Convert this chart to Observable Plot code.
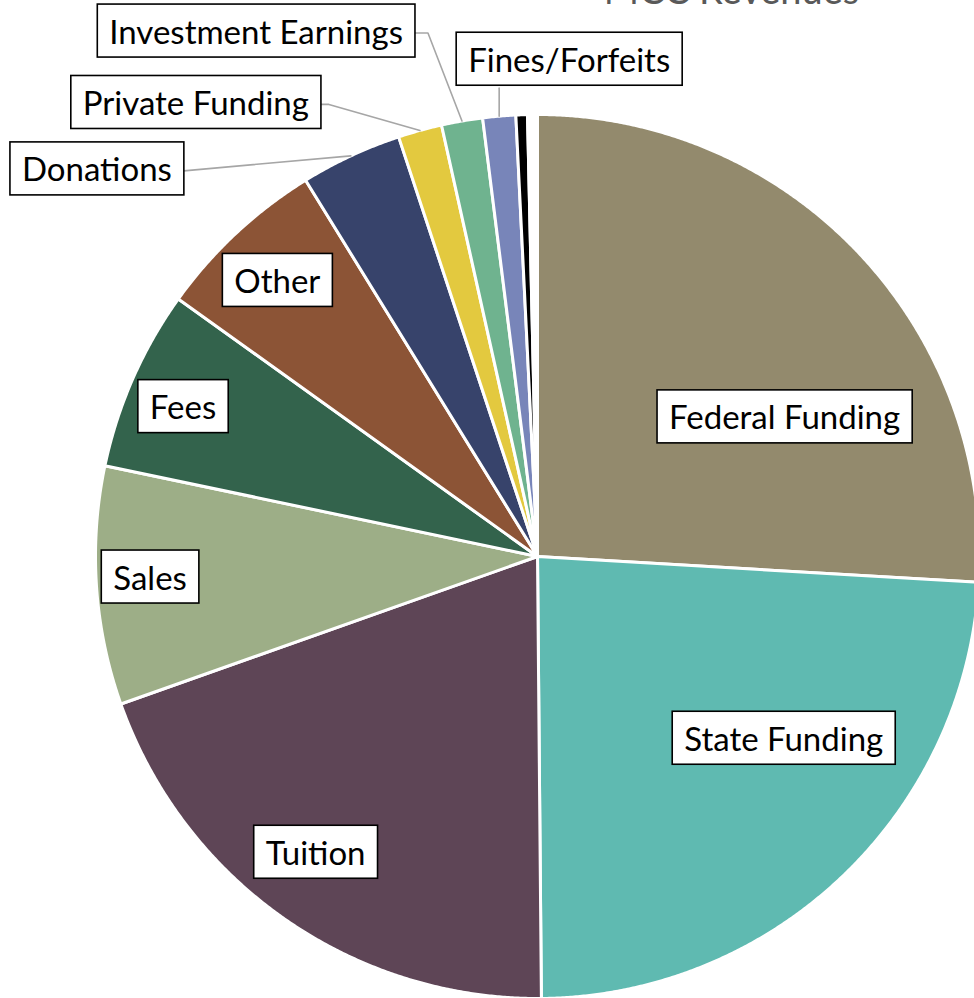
<!DOCTYPE html>
<html><head><meta charset="utf-8">
<script src="https://cdn.jsdelivr.net/npm/d3@7"></script>
<script src="https://cdn.jsdelivr.net/npm/@observablehq/plot@0.6"></script>
<style>
body{margin:0;background:#fff;overflow:hidden}
#chart svg{overflow:visible}
</style>
</head><body><div id="chart"></div>
<script>
// ---- data ----
const title = "MCC Revenues";
const categories = ["Federal Funding","State Funding","Tuition","Sales","Fees","Other","Donations","Private Funding","Investment Earnings","Fines/Forfeits","Unlabeled (black)","Unlabeled (white)"];
const shares = [25.9,23.9,19.7,8.7,6.6,6.3,3.7,1.6,1.5,1.2,0.42,0.36];
const colors = ["#938a6d","#5fbab1","#5e4556","#9dae87","#33634c","#8c5436","#37436b","#e3c93f","#6fb38f","#7885b9","#000000","#ffffff"];
const shownLabels = ["Federal Funding","State Funding","Tuition","Sales","Fees","Other","Donations","Private Funding","Investment Earnings","Fines/Forfeits"];

// ---- layout ----
const W=974,H=998,CX=537,CY=556,R=442;
const FONT="Lato, 'Open Sans', sans-serif", FS=33, PADX=12, PADY=6.5;
const inside = {
  "Federal Funding":{r:0.64,da:14.2},
  "State Funding":{r:0.695,da:-9.7},
  "Tuition":{r:0.84,da:1.7},
  "Sales":{r:0.878,da:0.5},
  "Fees":{r:0.869,da:-1.1},
  "Other":{r:0.855,da:-0.5}
};
// outside labels: offsets in px from the slice's outer mid point
const outside = {
  "Donations":{anchor:"end",tx:-167,ty:15,elbow:null,end:[-167,15]},
  "Private Funding":{anchor:"end",tx:-99,ty:-26,elbow:[-91,-26],end:[-99,-26]},
  "Investment Earnings":{anchor:"end",tx:-47,ty:-88,elbow:[-34,-88],end:[-47,-88]},
  "Fines/Forfeits":{anchor:"middle",tx:70,ty:-55,elbow:null,end:[0,-28]}
};

const slices = categories.map((name,i)=>({name,value:shares[i]}));
const arcs = d3.pie().sort(null).value(d=>d.value)(slices);

// polygon points for each slice
const pts = [];
arcs.forEach(a=>{
  const name=a.data.name;
  pts.push({name,x:0,y:0});
  const n=Math.max(2,Math.ceil((a.endAngle-a.startAngle)/(Math.PI/720)));
  for(let k=0;k<=n;k++){
    const t=a.startAngle+(a.endAngle-a.startAngle)*k/n;
    pts.push({name,x:Math.sin(t),y:Math.cos(t)});
  }
  pts.push({name,x:0,y:0});
});

const labels=[], leaders=[];
const deg=Math.PI/180;
arcs.forEach(a=>{
  const name=a.data.name;
  if(!shownLabels.includes(name)) return;
  const mid=(a.startAngle+a.endAngle)/2;
  if(inside[name]){
    const L=inside[name], t=mid+L.da*deg;
    labels.push({name,x:L.r*Math.sin(t),y:L.r*Math.cos(t),anchor:"middle"});
  } else {
    const L=outside[name];
    const ax=Math.sin(mid), ay=Math.cos(mid);
    const tx = L.anchor==="end" ? L.tx-PADX : L.tx;
    labels.push({name,x:ax+tx/R,y:ay-L.ty/R,anchor:L.anchor});
    leaders.push({name,x:ax,y:ay});
    if(L.elbow) leaders.push({name,x:ax+L.elbow[0]/R,y:ay-L.elbow[1]/R});
    leaders.push({name,x:ax+L.end[0]/R,y:ay-L.end[1]/R});
  }
});

const plot = Plot.plot({
  width:W,height:H,margin:0,
  style:{background:"white",overflow:"visible"},
  x:{domain:[-1,1],range:[CX-R,CX+R],axis:null},
  y:{domain:[-1,1],range:[CY+R,CY-R],axis:null},
  color:{domain:categories,range:colors},
  marks:[
    Plot.line(pts,{x:"x",y:"y",z:"name",fill:"name",stroke:"white",strokeWidth:3,strokeLinejoin:"round",curve:"linear"}),
    Plot.line(leaders,{x:"x",y:"y",z:"name",stroke:"#a6a6a6",strokeWidth:1.6}),
    Plot.text(labels.filter(d=>d.anchor==="middle"),{x:"x",y:"y",text:"name",textAnchor:"middle",fontSize:FS,fontFamily:FONT,fill:"black"}),
    Plot.text(labels.filter(d=>d.anchor==="end"),{x:"x",y:"y",text:"name",textAnchor:"end",fontSize:FS,fontFamily:FONT,fill:"black"}),
    Plot.text([title],{x:()=>(731-CX)/R,y:()=>(CY-3)/R,text:d=>d,textAnchor:"middle",lineAnchor:"bottom",fontSize:38,fontFamily:FONT,fill:"#595959"})
  ]
});
document.getElementById("chart").appendChild(plot);

// boxes behind labels
plot.querySelectorAll('text').forEach(t=>{
  if(!shownLabels.includes(t.textContent)) return;
  const b=t.getBBox();
  const r=document.createElementNS("http://www.w3.org/2000/svg","rect");
  r.setAttribute("x",b.x-PADX); r.setAttribute("y",b.y-PADY);
  r.setAttribute("width",b.width+2*PADX); r.setAttribute("height",b.height+2*PADY);
  r.setAttribute("fill","white"); r.setAttribute("stroke","black"); r.setAttribute("stroke-width","1.6");
  const tr=t.getAttribute("transform"); if(tr) r.setAttribute("transform",tr);
  t.parentNode.insertBefore(r,t);
});
</script></body></html>
